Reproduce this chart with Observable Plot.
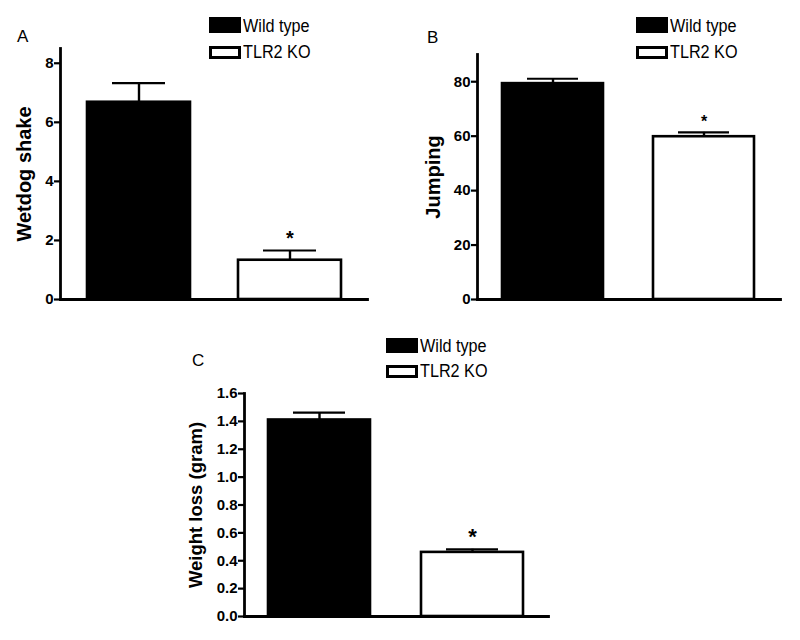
<!DOCTYPE html>
<html>
<head>
<meta charset="utf-8">
<script src="https://cdn.jsdelivr.net/npm/d3@7"></script>
<script src="https://cdn.jsdelivr.net/npm/@observablehq/plot@0.6"></script>
<style>
  html, body { margin: 0; padding: 0; background: #fff; }
  #root { position: relative; width: 800px; height: 640px; overflow: hidden; font-family: "Liberation Sans", Arial, sans-serif; }
  .panel { position: absolute; }
  .letter { position: absolute; font-size: 17px; line-height: 17px; color: #000; }
  .sw { position: absolute; box-sizing: border-box; border: 3px solid #000; }
  .lt { position: absolute; font-size: 18px; line-height: 18px; white-space: nowrap; transform: scaleX(0.9); transform-origin: left center; color: #000; }
</style>
</head>
<body>
<div id="root"></div>
<script>
// ---- data ----
const groups = ["Wild type", "TLR2 KO"];
const groupFill = ["#000000", "#ffffff"];
const significant = [false, true];

const wetdogMean = [6.68, 1.33];
const wetdogErr  = [0.65, 0.33];
const wetdogTicks = [0, 2, 4, 6, 8];

const jumpingMean = [79.3, 59.8];
const jumpingErr  = [1.8, 1.6];
const jumpingTicks = [0, 20, 40, 60, 80];

const weightMean = [1.41, 0.46];
const weightErr  = [0.053, 0.022];
const weightTicks = [0, 0.2, 0.4, 0.6, 0.8, 1.0, 1.2, 1.4, 1.6];

const panelLetters = ["A", "B", "C"];
const yLabels = ["Wetdog shake", "Jumping", "Weight loss (gram)"];

const root = document.getElementById("root");

function makeTable(means, errs) {
  return groups.map((g, i) => ({ group: g, mean: means[i], err: errs[i], fill: groupFill[i], sig: significant[i] }));
}

function panel(cfg) {
  const data = makeTable(cfg.means, cfg.errs);
  const plot = Plot.plot({
    width: cfg.width,
    height: cfg.height,
    marginLeft: cfg.ml, marginRight: cfg.mr, marginTop: cfg.mt, marginBottom: cfg.mb,
    style: { fontFamily: "Liberation Sans, Arial, sans-serif", fontSize: "15px", fontWeight: "bold", color: "#000", background: "transparent" },
    x: { domain: groups, axis: null, paddingInner: cfg.pi, paddingOuter: cfg.po },
    y: { domain: cfg.yDomain, ticks: cfg.ticks, axis: null },
    marks: [
      Plot.barY(data, { x: "group", y: "mean", fill: "fill", stroke: "#000", strokeWidth: 2.6 }),
      Plot.ruleX(data, { x: "group", y1: "mean", y2: d => d.mean + d.err, stroke: "#000", strokeWidth: 2.4 }),
      Plot.tickY(data, { x: "group", y: d => d.mean + d.err, insetLeft: cfg.cap, insetRight: cfg.cap, stroke: "#000", strokeWidth: 2.4 }),
      Plot.text(data.filter(d => d.sig), { x: "group", y: d => d.mean + d.err, text: () => "*", dy: cfg.starDy, fontSize: cfg.starSize, fontWeight: "bold", lineAnchor: "middle" }),
      Plot.axisY({ ticks: cfg.ticks, tickSize: 6, tickPadding: 1, tickFormat: cfg.fmt, label: null, strokeWidth: 2.2, fontSize: 15, fontWeight: "bold" }),
      Plot.frame({ anchor: "left", stroke: "#000", strokeWidth: 2.8 }),
      Plot.frame({ anchor: "bottom", stroke: "#000", strokeWidth: 2.8 }),
      Plot.text([cfg.label], { frameAnchor: "left", rotate: -90, dx: cfg.labelDx, text: d => d, textAnchor: "middle", lineAnchor: "bottom", fontSize: cfg.labelSize, fontWeight: "bold" })
    ]
  });
  d3.select(plot).selectAll("text")
    .filter(function () { return /^[0-9.]+$/.test(this.textContent.trim()); })
    .style("font-size", "15px").style("font-weight", "bold");
  d3.select(plot).selectAll('g[aria-label*="tick"]').style("stroke-width", "2.2px");

  const wrap = document.createElement("div");
  wrap.className = "panel";
  wrap.style.left = cfg.left + "px";
  wrap.style.top = cfg.top + "px";
  wrap.appendChild(plot);
  root.appendChild(wrap);

  const L = document.createElement("div");
  L.className = "letter";
  L.textContent = cfg.letter;
  L.style.left = cfg.letterX + "px";
  L.style.top = cfg.letterY + "px";
  root.appendChild(L);

  groups.forEach((g, i) => {
    const sw = document.createElement("div");
    sw.className = "sw";
    sw.style.left = cfg.legX + "px";
    sw.style.top = cfg.legSwY[i] + "px";
    sw.style.width = "32px";
    sw.style.height = cfg.legSwH[i] + "px";
    sw.style.background = groupFill[i];
    root.appendChild(sw);
    const t = document.createElement("div");
    t.className = "lt";
    t.textContent = g;
    t.style.left = (cfg.legX + 34) + "px";
    t.style.top = cfg.legTextY[i] + "px";
    root.appendChild(t);
  });
}

panel({
  left: 0, top: 0, width: 400, height: 310,
  ml: 60, mr: 33, mt: 48, mb: 11, pi: 0.32, po: 0.17,
  yDomain: [0, 8.5], ticks: wetdogTicks, fmt: d3.format("d"),
  means: wetdogMean, errs: wetdogErr, cap: 25, starDy: -12, starSize: 20,
  label: yLabels[0], labelDx: -30, labelSize: 20,
  letter: panelLetters[0], letterX: 17, letterY: 28,
  legX: 209, legSwY: [17, 46], legSwH: [16, 13], legTextY: [17, 43]
});

panel({
  left: 400, top: 0, width: 400, height: 310,
  ml: 77, mr: 20, mt: 54, mb: 11, pi: 0.33, po: 0.164,
  yDomain: [0, 90], ticks: jumpingTicks, fmt: d3.format("d"),
  means: jumpingMean, errs: jumpingErr, cap: 25, starDy: -10, starSize: 16,
  label: yLabels[1], labelDx: -38, labelSize: 20,
  letter: panelLetters[1], letterX: 427, letterY: 29,
  legX: 636, legSwY: [17, 46], legSwH: [16, 13], legTextY: [17, 43]
});

panel({
  left: 180, top: 320, width: 420, height: 320,
  ml: 64, mr: 52, mt: 73, mb: 24, pi: 0.333, po: 0.157,
  yDomain: [0, 1.6], ticks: weightTicks, fmt: d3.format(".1f"),
  means: weightMean, errs: weightErr, cap: 25, starDy: -12, starSize: 22,
  label: yLabels[2], labelDx: -43, labelSize: 18.5,
  letter: panelLetters[2], letterX: 192, letterY: 352,
  legX: 386, legSwY: [338, 365], legSwH: [15, 13], legTextY: [337, 362]
});
</script>
</body>
</html>
